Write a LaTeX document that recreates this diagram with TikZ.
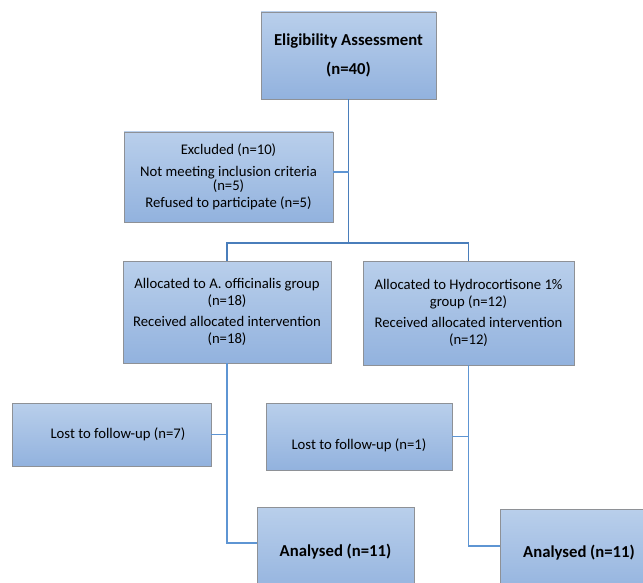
\documentclass[tikz,border=0pt]{standalone}
\usepackage{fontspec}
\setmainfont{Carlito}
\definecolor{boxtop}{HTML}{B9CFEB}
\definecolor{boxbot}{HTML}{92B2DE}
\definecolor{boxborder}{HTML}{8E9196}
\definecolor{linedark}{HTML}{4A7EBB}
\definecolor{linelight}{HTML}{5E95D3}
\tikzset{
  box/.style={draw=boxborder, line width=0.9pt, top color=boxtop, bottom color=boxbot,
    inner sep=0pt, align=center, font=\fontsize{14.7}{17}\selectfont},
  boldbox/.style={box, font=\fontsize{16.7}{20.5}\selectfont\bfseries},
  trunk/.style={draw=linedark, line width=1.5pt},
  conn/.style={draw=linelight, line width=1.5pt},
}
\begin{document}
\begin{tikzpicture}[x=1pt, y=-1pt]
\useasboundingbox (0,0) rectangle (643,583);
\clip (0,0) rectangle (643,583);
% boxes
\node[boldbox, minimum width=175pt, minimum height=87pt] (elig) at (348.5,55.5)
  {Eligibility Assessment\\[8.5pt](n=40)};
\node[box, font=\fontsize{14.7}{14}\selectfont, minimum width=209pt, minimum height=90pt] (excl) at (228.5,177)
  {Excluded (n=10)\\[8pt]Not meeting inclusion criteria\\(n=5)\\[3pt]Refused to participate (n=5)};
\node[box, minimum width=208pt, minimum height=102pt] (allocA) at (227,312)
  {Allocated to A. officinalis group\\(n=18)\\[4pt]Received allocated intervention\\(n=18)};
\node[box, minimum width=211pt, minimum height=104pt] (allocB) at (468.5,313)
  {Allocated to Hydrocortisone 1\%\\group (n=12)\\[4pt]Received allocated intervention\\(n=12)};
\node[box, minimum width=199pt, minimum height=63pt] (lostA) at (111.5,434.5)
  {\hspace*{13pt}Lost to follow-up (n=7)};
\node[box, minimum width=186pt, minimum height=67pt, text height=27pt, text depth=2pt] (lostB) at (359,436.5)
  {Lost to follow-up (n=1)};
\node[boldbox, minimum width=157pt, minimum height=90pt] (analA) at (335.5,552)
  {Analysed (n=11)};
\node[boldbox, minimum width=158pt, minimum height=88pt] (analB) at (579,553)
  {Analysed (n=11)};
% connectors
\coordinate (j) at (348,243);
\draw[trunk] (elig.south) -- (elig.south |- j);
\draw[trunk] (allocA.north) -- (allocA.north |- j) -- (allocB.north |- j) -- (allocB.north);
\draw[conn] ([yshift=5pt]excl.east) -- ([yshift=5pt]excl.east -| elig.south);
\draw[conn] (allocA.south) |- ([yshift=9pt]analA.west);
\draw[conn] (lostA.east) -- (lostA.east -| allocA.south);
\draw[conn] (allocB.south) |- ([yshift=7pt]analB.west);
\draw[conn] (lostB.east) -- (lostB.east -| allocB.south);
\end{tikzpicture}
\end{document}
